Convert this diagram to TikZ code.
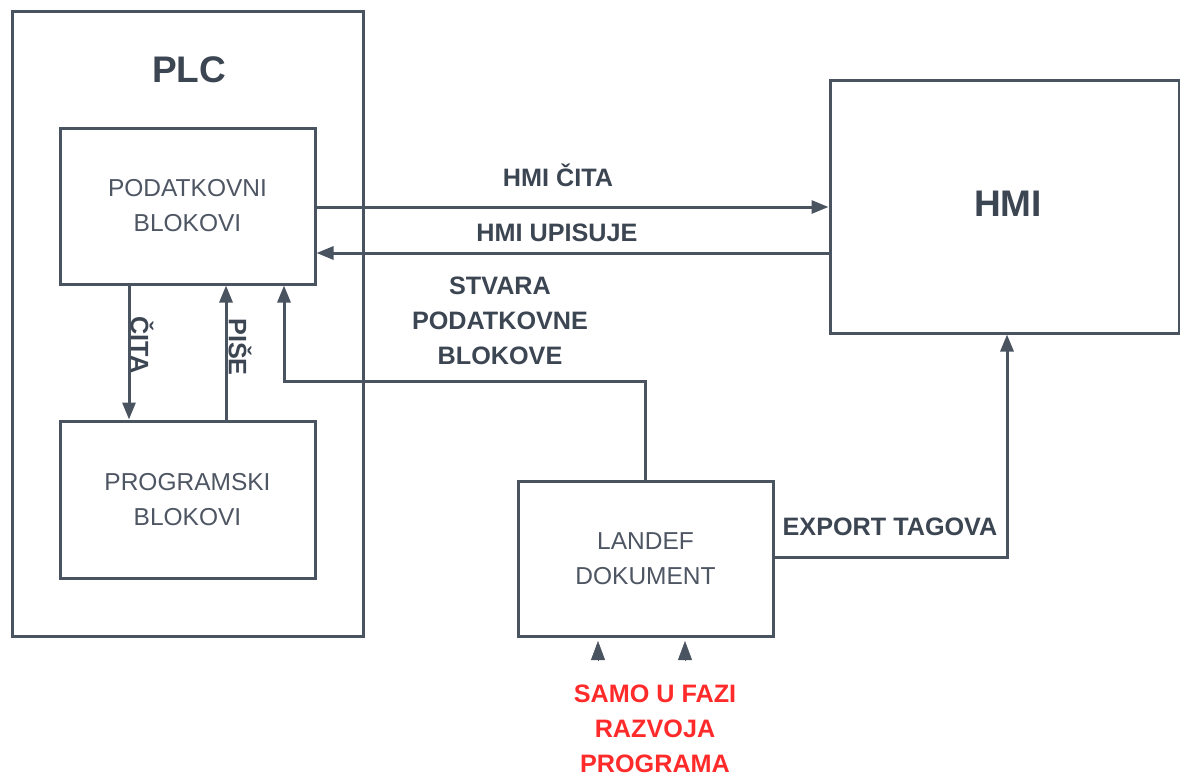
\documentclass[tikz,border=0pt]{standalone}
\usepackage{fontspec}
\setmainfont{Liberation Sans}
\usetikzlibrary{arrows.meta}
\definecolor{ln}{HTML}{4A5461}
\definecolor{tx}{HTML}{3C4552}
\definecolor{tl}{HTML}{4E5663}
\definecolor{rd}{HTML}{FF2A2A}
\tikzset{
  box/.style={draw=ln, line width=3pt, fill=white, inner sep=0pt, align=center,
    text=tl, font=\fontsize{24.5}{35}\selectfont},
  big/.style={text=tx, font=\fontsize{37}{40}\selectfont\bfseries, inner sep=0pt},
  lbl/.style={text=tx, font=\fontsize{25.2}{35}\selectfont\bfseries, inner sep=0pt, align=center},
  conn/.style={draw=ln, line width=3pt, -{Triangle[length=17pt,width=13pt]}},
  tick/.style={draw=ln, line width=0.5pt, -{Triangle[length=19pt,width=14pt]}}
}
\begin{document}
\begin{tikzpicture}[x=1pt,y=-1pt]
\useasboundingbox (0,0) rectangle (1180,776);
% boxes
\node[box, minimum width=351, minimum height=624] (plc) at (187.5,324) {};
\node[big] (plct) at (189,70) {PLC};
\node[box, minimum width=255, minimum height=156] (pod) at (187.5,206) {PODATKOVNI\\BLOKOVI};
\node[box, minimum width=255, minimum height=157] (prog) at (187.5,499.5) {PROGRAMSKI\\BLOKOVI};
\node[box, minimum width=349, minimum height=253] (hmi) at (1004.5,206.5) {};
\node[big] (hmit) at (1008,204) {HMI};
\node[box, minimum width=255, minimum height=155] (lan) at (645.5,558.5) {LANDEF\\DOKUMENT};
% coordinates
\coordinate (c1) at (315,207);
\coordinate (c2) at (830,253);
\coordinate (c3) at (129,284);
\coordinate (c4) at (226,421);
\coordinate (s1) at (645,381);
\coordinate (s2) at (284,381);
\coordinate (e1) at (1007,557);
\coordinate (t1) at (598,660);
\coordinate (t2) at (598,641);
\coordinate (t3) at (685,660);
\coordinate (t4) at (685,641);
% connectors
\draw[conn] (c1) -- (c1 -| hmi.west);
\draw[conn] (c2) -- (c2 -| pod.east);
\draw[conn] (c3) -- (c3 |- prog.north);
\draw[conn] (c4) -- (c4 |- pod.south);
\draw[conn] (lan.north -| s1) -- (s1) -- (s2) -- (s2 |- pod.south);
\draw[conn] (lan.east |- e1) -- (e1) -- (e1 |- hmi.south);
\draw[tick] (t1) -- (t2);
\draw[tick] (t3) -- (t4);
% labels
\node[lbl] (l1) at (558,175) {HMI ČITA};
\node[lbl] (l2) at (557,233) {HMI UPISUJE};
\node[lbl] (l3) at (500,321) {STVARA\\PODATKOVNE\\BLOKOVE};
\node[lbl] (l4) at (890,527) {EXPORT TAGOVA};
\node[lbl, rotate=-90] (l5) at (142,345) {ČITA};
\node[lbl, rotate=-90] (l6) at (240,347) {PIŠE};
\node[lbl, text=rd] (l7) at (655,729) {SAMO U FAZI\\RAZVOJA\\PROGRAMA};
\end{tikzpicture}
\end{document}
